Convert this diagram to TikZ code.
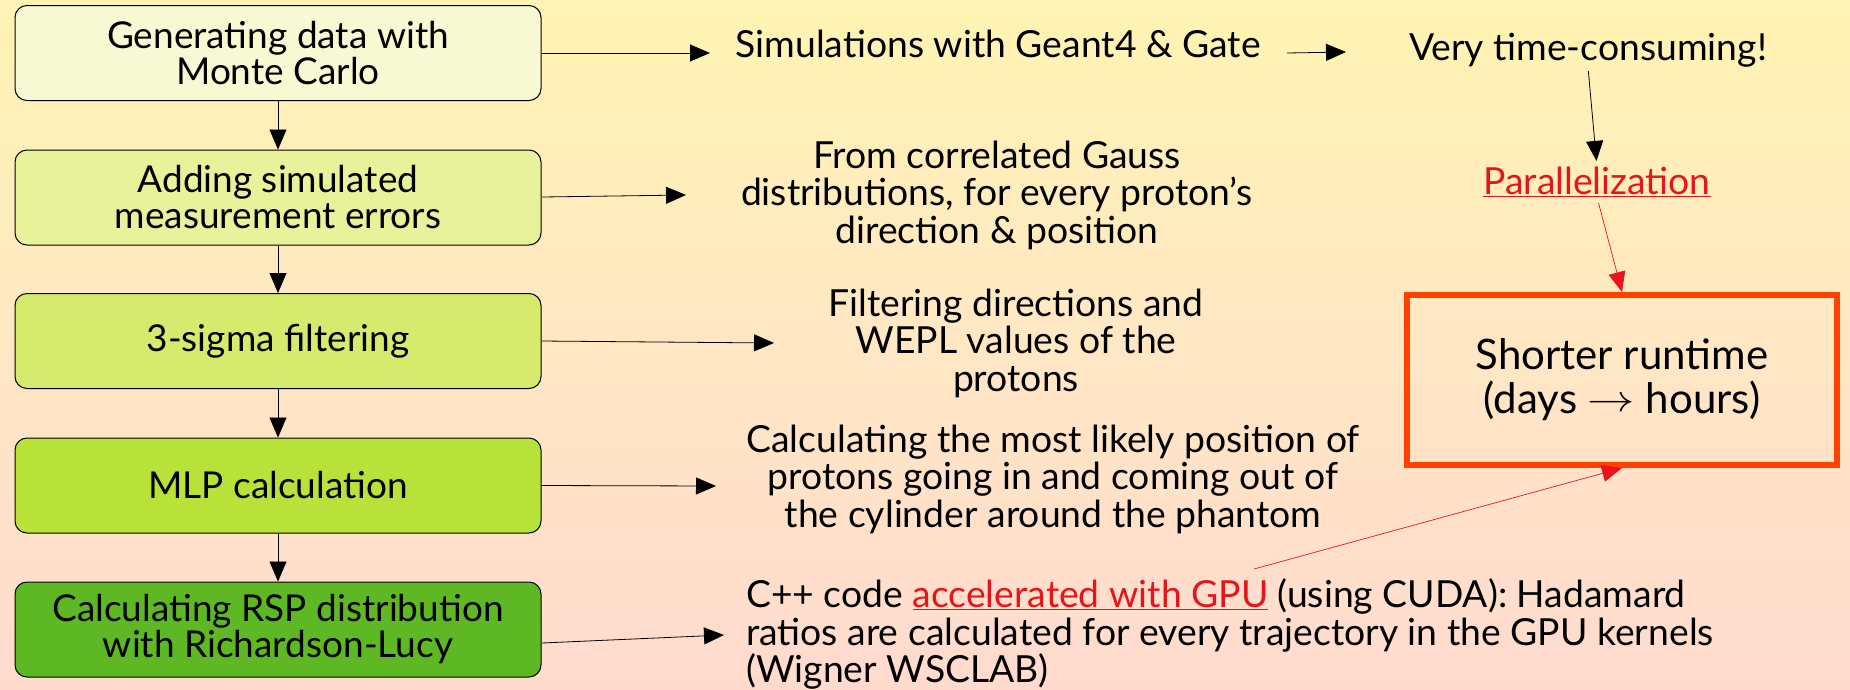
\documentclass[tikz,border=0pt]{standalone}
\usepackage{fontspec}
\setmainfont{Lato}
\usetikzlibrary{arrows.meta}
\definecolor{bgtop}{RGB}{255,244,178}
\definecolor{bgmid}{RGB}{255,231,196}
\definecolor{bgbot}{RGB}{255,219,206}
\definecolor{fa}{RGB}{247,249,210}
\definecolor{fb}{RGB}{231,242,154}
\definecolor{fc}{RGB}{214,234,110}
\definecolor{fd}{RGB}{184,226,58}
\definecolor{fe}{RGB}{93,184,35}
\definecolor{orangeedge}{RGB}{255,66,0}
\definecolor{redtxt}{RGB}{232,20,27}
\tikzset{
  stepbox/.style={draw=black, line width=1pt, rounded corners=12pt, minimum width=526pt, minimum height=95pt, align=center, inner sep=0pt, font=\fontsize{37}{36}\selectfont},
  sidetext/.style={align=center, inner sep=0pt, font=\fontsize{37.3}{37.5}\selectfont},
  arr/.style={draw=black, line width=0.8pt, -{Triangle[length=20pt,width=17pt]}},
  redarr/.style={draw=redtxt, line width=0.7pt, -{Triangle[length=20pt,width=17pt]}}
}
\begin{document}
\begin{tikzpicture}[x=1pt,y=-1pt]
\useasboundingbox (0,0) rectangle (1850,689);
\shade[top color=bgtop, bottom color=bgbot, middle color=bgmid] (0,0) rectangle (1850,689);

% left boxes
\node[stepbox, fill=fa] (b1) at (278,53) {Generating data with\\Monte Carlo};
\node[stepbox, fill=fb] (b2) at (278,197.5) {Adding simulated\\measurement errors};
\node[stepbox, fill=fc] (b3) at (278,341) {3-sigma filtering};
\node[stepbox, fill=fd] (b4) at (278,485.5) {MLP calculation};
\node[stepbox, fill=fe] (b5) at (278,629.5) {Calculating RSP distribution\\with Richardson-Lucy};

\draw[arr] (b1) -- (b2);
\draw[arr] (b2) -- (b3);
\draw[arr] (b3) -- (b4);
\draw[arr] (b4) -- (b5);

% side texts
\node[sidetext] (sim) at (998,44) {Simulations with Geant4 \& Gate};
\node[sidetext] (very) at (1588,50) {Very time-consuming!};
\node[sidetext, text=redtxt] (par) at (1597,182) {\underline{Parallelization}};
\node[sidetext] (gauss) at (997,195) {From correlated Gauss\\distributions, for every proton’s\\direction \& position};
\node[sidetext] (filt) at (1016,343) {Filtering directions and\\WEPL values of the\\protons};
\node[sidetext] (mlp) at (1053,479) {Calculating the most likely position of\\protons going in and coming out of\\the cylinder around the phantom};
\node[sidetext, align=left, anchor=west] (gpu) at (746,634) {C++ code \textcolor{redtxt}{\underline{accelerated with GPU}} (using CUDA): Hadamard\\ratios are calculated for every trajectory in the GPU kernels\\(Wigner WSCLAB)};

% result box
\node[draw=orangeedge, line width=6pt, minimum width=430pt, minimum height=170pt, align=center, inner sep=0pt, font=\fontsize{42}{44}\selectfont] (short) at (1622,380) {Shorter runtime\\(days \raisebox{0.05em}{\scalebox{1.9}[1.5]{$\rightarrow$}} hours)};

% connectors
\coordinate (e1) at (710,53);
\coordinate (s2) at (542,197);
\coordinate (e2) at (686,195);
\coordinate (e3) at (774,343);
\coordinate (e4) at (716,486);
\coordinate (s5) at (542,643);
\coordinate (e5) at (724,635);
\coordinate (s6) at (1287,53);
\coordinate (e6) at (1346,52);
\coordinate (gpustart) at (1254,569);

\draw[arr] (b1.east) -- (e1);
\draw[arr] (s2) -- (e2);
\draw[arr] (b3.east) -- (e3);
\draw[arr] (b4.east) -- (e4);
\draw[arr] (s5) -- (e5);
\draw[arr] (s6) -- (e6);
\draw[arr, shorten <=4pt, shorten >=6pt] (very.south) -- (par.north);
\draw[redarr, shorten <=6pt] (par.south) -- (short.north);
\draw[redarr] (gpustart) -- (short.south);
\end{tikzpicture}
\end{document}
